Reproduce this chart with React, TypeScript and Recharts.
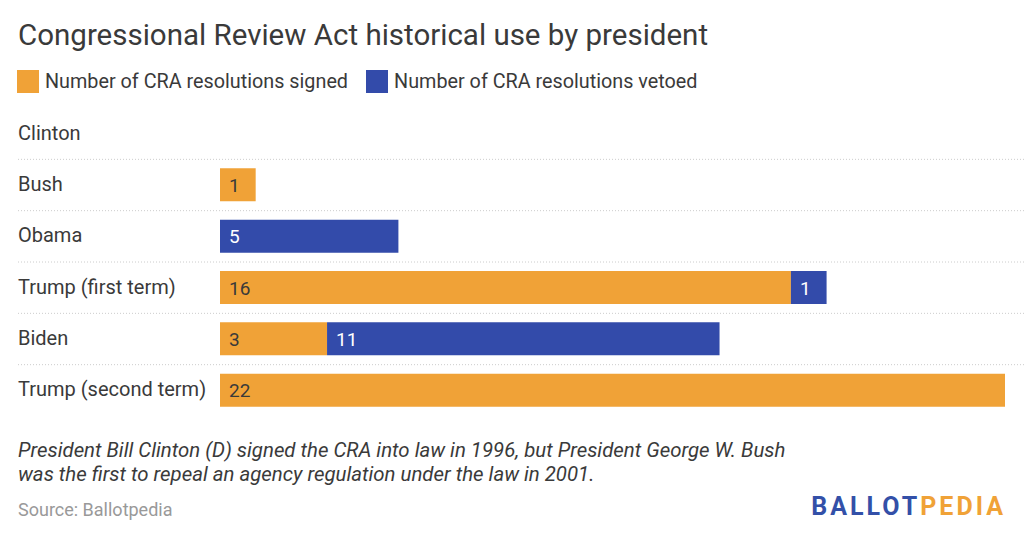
import { BarChart, Bar, XAxis, YAxis, LabelList } from 'recharts'

const presidents = ['Clinton', 'Bush', 'Obama', 'Trump (first term)', 'Biden', 'Trump (second term)']
const signed = [0, 1, 0, 16, 3, 22]
const vetoed = [0, 0, 5, 1, 11, 0]

const ORANGE = '#F0A237'
const BLUE = '#334BAA'
const TEXT = '#3a3a3a'
const FONT = 'Roboto, "Noto Sans", sans-serif'

const data = presidents.map((name, i) => ({ name, signed: signed[i], vetoed: vetoed[i] }))

const RowTick = (props: any) => {
  const { y, payload, index } = props
  const pitch = 308 / presidents.length
  return (
    <g>
      <text x={18} y={y} dy={6} textAnchor="start" fill={TEXT} fontSize={20} fontFamily={FONT}>
        {payload.value}
      </text>
      {index < presidents.length - 1 && (
        <line
          x1={18}
          x2={1024}
          y1={y + pitch / 2}
          y2={y + pitch / 2}
          stroke="#cccccc"
          strokeDasharray="1 2"
        />
      )}
    </g>
  )
}

const valueLabel = (color: string) => (props: any) => {
  const { x, y, height, value } = props
  if (!value) return null
  return (
    <text x={x + 9} y={y + height / 2} dy={7} fill={color} fontSize={19} fontFamily={FONT}>
      {value}
    </text>
  )
}

export default function App() {
  return (
    <div
      style={{
        position: 'absolute',
        left: 0,
        top: 0,
        width: 1024,
        height: 538,
        background: '#fff',
        fontFamily: FONT,
        color: TEXT,
        overflow: 'hidden',
      }}
    >
      <div style={{ position: 'absolute', left: 18, top: 15, fontSize: 29.5, lineHeight: '40px' }}>
        Congressional Review Act historical use by president
      </div>
      <div
        style={{
          position: 'absolute',
          left: 17,
          top: 70,
          display: 'flex',
          alignItems: 'center',
          fontSize: 19.8,
          height: 23,
        }}
      >
        <span style={{ width: 22, height: 23, background: ORANGE, marginRight: 6 }} />
        <span style={{ marginRight: 18 }}>Number of CRA resolutions signed</span>
        <span style={{ width: 22, height: 23, background: BLUE, marginRight: 6 }} />
        <span>Number of CRA resolutions vetoed</span>
      </div>
      <div style={{ position: 'absolute', left: 0, top: 0 }}>
        <BarChart
          width={1024}
          height={420}
          data={data}
          layout="vertical"
          margin={{ top: 108, right: 19, bottom: 4, left: 0 }}
          barSize={33}
        >
          <XAxis type="number" domain={[0, 22]} hide />
          <YAxis
            type="category"
            dataKey="name"
            width={220}
            axisLine={false}
            tickLine={false}
            tick={<RowTick />}
            interval={0}
          />
          <Bar dataKey="signed" stackId="a" fill={ORANGE} isAnimationActive={false}>
            <LabelList dataKey="signed" content={valueLabel(TEXT)} />
          </Bar>
          <Bar dataKey="vetoed" stackId="a" fill={BLUE} isAnimationActive={false}>
            <LabelList dataKey="vetoed" content={valueLabel('#ffffff')} />
          </Bar>
        </BarChart>
      </div>
      <div
        style={{
          position: 'absolute',
          left: 18,
          top: 438,
          fontSize: 20.4,
          fontStyle: 'italic',
          lineHeight: '24px',
        }}
      >
        President Bill Clinton (D) signed the CRA into law in 1996, but President George W. Bush
        <br />
        was the first to repeal an agency regulation under the law in 2001.
      </div>
      <div style={{ position: 'absolute', left: 18, top: 499, fontSize: 18, color: '#999999' }}>
        Source: Ballotpedia
      </div>
      <div
        style={{
          position: 'absolute',
          right: 18,
          top: 492,
          fontSize: 25,
          fontWeight: 700,
          letterSpacing: 3,
        }}
      >
        <span style={{ color: '#3350A8' }}>BALLOT</span>
        <span style={{ color: ORANGE }}>PEDIA</span>
      </div>
    </div>
  )
}
